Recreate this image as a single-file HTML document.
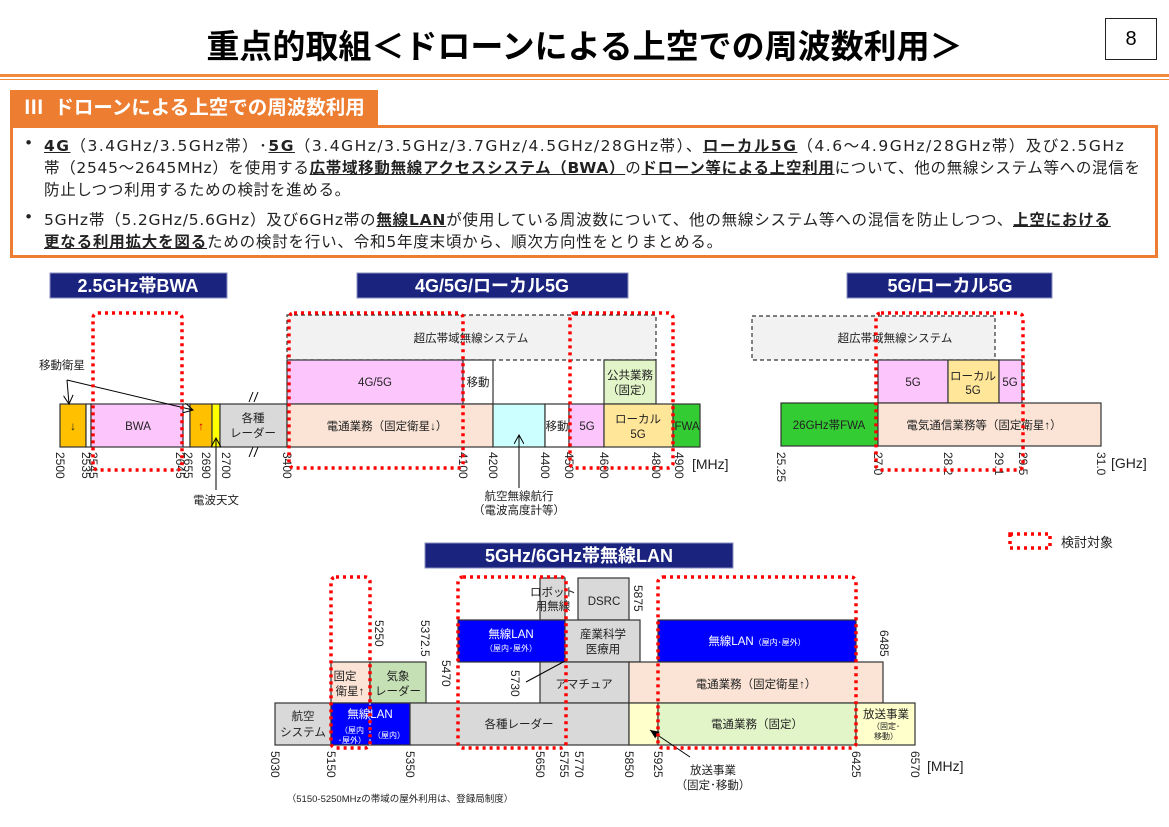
<!DOCTYPE html>
<html><head><meta charset="utf-8"><style>
body{margin:0;background:#fff;}
#w{position:relative;width:1169px;height:827px;overflow:hidden;font-family:"Liberation Sans","Noto Sans CJK JP",sans-serif;}
.l{position:absolute;white-space:nowrap;font-size:15.5px;color:#222;font-family:"DejaVu Sans","Noto Sans CJK JP",sans-serif;letter-spacing:0.2px;}
b{text-decoration:underline;}
svg text{font-family:"Liberation Sans","Noto Sans CJK JP",sans-serif;}
</style></head><body><div id="w">
<div style="position:absolute;left:0;top:20px;width:1169px;text-align:center;font-size:33px;font-weight:bold;color:#000;">重点的取組＜ドローンによる上空での周波数利用＞</div>
<div style="position:absolute;left:1105px;top:18px;width:52px;height:42px;border:1.5px solid #222;box-sizing:border-box;text-align:center;line-height:40px;font-size:20px;">8</div>
<div style="position:absolute;left:0;top:74px;width:1169px;height:3px;background:#f08a3c"></div>
<div style="position:absolute;left:0;top:79px;width:1169px;height:1px;background:#f08a3c"></div>
<div style="position:absolute;left:10px;top:90px;width:368px;height:36px;background:#ed7d31;color:#fff;font-weight:bold;font-size:19.5px;line-height:36px;padding-left:14px;box-sizing:border-box;">Ⅲ&nbsp; ドローンによる上空での周波数利用</div>
<div style="position:absolute;left:10px;top:125px;width:1148px;height:133px;border:3px solid #ed7d31;box-sizing:border-box;"></div>
<div class="l" style="left:24px;top:134px;">•</div>
<div class="l" style="left:44px;top:134px;letter-spacing:1.5px;"><b>4G</b>（3.4GHz/3.5GHz帯）･<b>5G</b>（3.4GHz/3.5GHz/3.7GHz/4.5GHz/28GHz帯）、<b>ローカル5G</b>（4.6～4.9GHz/28GHz帯）及び2.5GHz</div>
<div class="l" style="left:44px;top:156px;letter-spacing:0.7px;">帯（2545～2645MHz）を使用する<b>広帯域移動無線アクセスシステム（BWA）</b>の<b>ドローン等による上空利用</b>について、他の無線システム等への混信を</div>
<div class="l" style="left:44px;top:178px;letter-spacing:0.7px;">防止しつつ利用するための検討を進める。</div>
<div class="l" style="left:24px;top:208px;">•</div>
<div class="l" style="left:44px;top:208px;letter-spacing:0.8px;">5GHz帯（5.2GHz/5.6GHz）及び6GHz帯の<b>無線LAN</b>が使用している周波数について、他の無線システム等への混信を防止しつつ、<b>上空における</b></div>
<div class="l" style="left:44px;top:230px;letter-spacing:0.8px;"><b>更なる利用拡大を図る</b>ための検討を行い、令和5年度末頃から、順次方向性をとりまとめる。</div>

<svg width="1169" height="827" style="position:absolute;left:0;top:0" font-size="11.5">
<defs><marker id="ar" markerWidth="10" markerHeight="10" refX="9" refY="5" orient="auto"><path d="M0,0 L9,5 L0,10" fill="none" stroke="#000"/></marker>
<marker id="af" markerWidth="10" markerHeight="10" refX="9" refY="5" orient="auto"><path d="M0,1 L9,5 L0,9z" fill="#000"/></marker></defs>
<g fill="#1a237e" stroke="#8a8fc0"><rect x="50" y="273" width="177" height="25"/><rect x="357" y="273" width="271" height="25"/><rect x="847" y="273" width="205" height="25"/><rect x="425" y="543" width="308" height="25"/></g>
<g fill="#fff" font-weight="bold" font-size="18" text-anchor="middle"><text x="138" y="292">2.5GHz帯BWA</text><text x="492" y="292">4G/5G/ローカル5G</text><text x="950" y="292">5G/ローカル5G</text><text x="579" y="562">5GHz/6GHz帯無線LAN</text></g>

<g stroke="#333" stroke-width="1.2">
<rect x="287" y="315" width="369" height="45" fill="#f2f2f2" stroke-dasharray="4,3"/>
<rect x="287" y="360" width="176" height="44" fill="#fcc6fc"/>
<rect x="463" y="360" width="30" height="44" fill="#fff"/>
<rect x="604" y="360" width="52" height="44" fill="#e2f5c8"/>
<rect x="60" y="404" width="26" height="43" fill="#ffc000"/>
<rect x="86" y="404" width="5" height="43" fill="#fff"/>
<rect x="91" y="404" width="92" height="43" fill="#fcc6fc"/>
<rect x="183" y="404" width="7" height="43" fill="#fff"/>
<rect x="190" y="404" width="22" height="43" fill="#ffc000"/>
<rect x="212" y="404" width="8" height="43" fill="#ffff00"/>
<rect x="220" y="404" width="67" height="43" fill="#d9d9d9"/>
<rect x="287" y="404" width="206" height="43" fill="#fbe4d6"/>
<rect x="493" y="404" width="52" height="43" fill="#ccffff"/>
<rect x="545" y="404" width="24" height="43" fill="#fff"/>
<rect x="569" y="404" width="35" height="43" fill="#fcc6fc"/>
<rect x="604" y="404" width="69" height="43" fill="#ffe699"/>
<rect x="673" y="404" width="27" height="43" fill="#33cc33"/>
<rect x="752" y="316" width="243" height="44" fill="#f2f2f2" stroke-dasharray="4,3"/>
<rect x="878" y="360" width="70" height="43" fill="#fcc6fc"/>
<rect x="948" y="360" width="51" height="43" fill="#ffe699"/>
<rect x="999" y="360" width="23" height="43" fill="#fcc6fc"/>
<rect x="781" y="403" width="97" height="43" fill="#33cc33"/>
<rect x="878" y="403" width="223" height="43" fill="#fbe4d6"/>
</g>
<g fill="#222" text-anchor="middle">
<text x="471" y="342">超広帯域無線システム</text><text x="375" y="386">4G/5G</text><text x="478" y="386">移動</text>
<text x="630" y="379">公共業務</text><text x="630" y="394">（固定）</text>
<text x="73" y="430">↓</text><text x="138" y="430">BWA</text><text x="201" y="430" fill="#c00">↑</text>
<text x="253" y="422">各種</text><text x="253" y="437">レーダー</text>
<text x="387" y="430">電通業務（固定衛星↓）</text><text x="557" y="430">移動</text><text x="587" y="430">5G</text>
<text x="638" y="423">ローカル</text><text x="638" y="438">5G</text><text x="687" y="430">FWA</text>
<text x="895" y="342">超広帯域無線システム</text><text x="913" y="386">5G</text><text x="973" y="380">ローカル</text><text x="973" y="394">5G</text><text x="1010" y="386">5G</text>
<text x="829" y="429">26GHz帯FWA</text><text x="984" y="429">電気通信業務等（固定衛星↑）</text>
<text x="62" y="369">移動衛星</text><text x="216" y="504">電波天文</text>
<text x="519" y="500">航空無線航行</text><text x="519" y="514">（電波高度計等）</text>
</g>
<g stroke="#000" fill="none"><path d="M67,380 L69,404" marker-end="url(#ar)"/><path d="M67,380 L193,410" marker-end="url(#ar)"/><path d="M216,490 L216,438" marker-end="url(#ar)"/><path d="M519,488 L519,435" marker-end="url(#ar)"/>
<path d="M249,402l4,-10M254,402l4,-10M249,457l4,-10M254,457l4,-10"/></g>
<g fill="#222" font-size="12">
<g transform="translate(56,452) rotate(90)"><text>2500</text></g><g transform="translate(82,452) rotate(90)"><text>2535</text></g><g transform="translate(89,452) rotate(90)"><text>2545</text></g>
<g transform="translate(176,452) rotate(90)"><text>2645</text></g><g transform="translate(184,452) rotate(90)"><text>2655</text></g><g transform="translate(202,452) rotate(90)"><text>2690</text></g><g transform="translate(222,452) rotate(90)"><text>2700</text></g>
<g transform="translate(283,452) rotate(90)"><text>3400</text></g><g transform="translate(459,452) rotate(90)"><text>4100</text></g><g transform="translate(489,452) rotate(90)"><text>4200</text></g>
<g transform="translate(541,452) rotate(90)"><text>4400</text></g><g transform="translate(565,452) rotate(90)"><text>4500</text></g><g transform="translate(600,452) rotate(90)"><text>4600</text></g>
<g transform="translate(652,452) rotate(90)"><text>4800</text></g><g transform="translate(675,452) rotate(90)"><text>4900</text></g>
<g transform="translate(777,452) rotate(90)"><text>25.25</text></g><g transform="translate(874,452) rotate(90)"><text>27.0</text></g><g transform="translate(944,452) rotate(90)"><text>28.2</text></g>
<g transform="translate(995,452) rotate(90)"><text>29.1</text></g><g transform="translate(1019,452) rotate(90)"><text>29.5</text></g><g transform="translate(1097,452) rotate(90)"><text>31.0</text></g>
<text x="692" y="469" font-size="14">[MHz]</text><text x="1111" y="468" font-size="14">[GHz]</text>
</g>

<g stroke="#333" stroke-width="1.2">
<rect x="540" y="578" width="25" height="42" fill="#d9d9d9"/><rect x="578" y="578" width="51" height="42" fill="#d9d9d9"/>
<rect x="458" y="620" width="107" height="42" fill="#0000ff"/><rect x="565" y="620" width="75" height="42" fill="#d9d9d9"/><rect x="658" y="620" width="198" height="42" fill="#0000ff"/>
<rect x="331" y="662" width="39" height="41" fill="#fbe4d6"/><rect x="370" y="662" width="56" height="41" fill="#c5e0b4"/><rect x="540" y="662" width="89" height="41" fill="#d9d9d9"/><rect x="629" y="662" width="254" height="41" fill="#fbe4d6"/>
<rect x="275" y="703" width="56" height="42" fill="#d9d9d9"/><rect x="331" y="703" width="79" height="42" fill="#0000ff"/><rect x="410" y="703" width="219" height="42" fill="#d9d9d9"/>
<rect x="629" y="703" width="29" height="42" fill="#ffffcc"/><rect x="658" y="703" width="198" height="42" fill="#e2f5c8"/><rect x="856" y="703" width="59" height="42" fill="#ffffcc"/>
</g>
<path d="M370,703v42" stroke="#fff" stroke-dasharray="2,2"/>
<g fill="#222" text-anchor="middle">
<text x="553" y="596">ロボット</text><text x="553" y="610">用無線</text><text x="604" y="605">DSRC</text>
<text x="603" y="638">産業科学</text><text x="603" y="653">医療用</text>
<text x="345" y="680">固定</text><text x="350" y="695">衛星↑</text><text x="398" y="680">気象</text><text x="398" y="695">レーダー</text>
<text x="584" y="688">アマチュア</text><text x="756" y="688">電通業務（固定衛星↑）</text>
<text x="303" y="720">航空</text><text x="303" y="736">システム</text><text x="370" y="718" fill="#fff">無線LAN</text>
<text x="352" y="733" fill="#fff" font-size="8">（屋内</text><text x="352" y="743" fill="#fff" font-size="8">･屋外）</text><text x="389" y="738" fill="#fff" font-size="8">（屋内）</text>
<text x="519" y="728">各種レーダー</text><text x="757" y="728">電通業務（固定）</text>
<text x="886" y="718">放送事業</text><text x="886" y="729" font-size="8">（固定･</text><text x="886" y="739" font-size="8">移動）</text>
<text x="511" y="638" fill="#fff">無線LAN</text><text x="511" y="651" fill="#fff" font-size="8">（屋内･屋外）</text>
<text x="757" y="645" fill="#fff">無線LAN<tspan font-size="8">（屋内･屋外）</tspan></text>
<text x="713" y="774">放送事業</text><text x="713" y="789">（固定･移動）</text>
<text x="400" y="802" font-size="9.5">（5150-5250MHzの帯域の屋外利用は、登録局制度）</text>
<text x="1087" y="547" font-size="13">検討対象</text>
</g>
<g stroke="#000" fill="none"><path d="M690,757 L650,730" marker-end="url(#af)"/><path d="M526,682 L565,661"/></g>
<g fill="#222" font-size="12">
<g transform="translate(271,751) rotate(90)"><text>5030</text></g><g transform="translate(327,751) rotate(90)"><text>5150</text></g><g transform="translate(406,751) rotate(90)"><text>5350</text></g>
<g transform="translate(536,751) rotate(90)"><text>5650</text></g><g transform="translate(560,751) rotate(90)"><text>5755</text></g><g transform="translate(575,751) rotate(90)"><text>5770</text></g>
<g transform="translate(625,751) rotate(90)"><text>5850</text></g><g transform="translate(654,751) rotate(90)"><text>5925</text></g><g transform="translate(852,751) rotate(90)"><text>6425</text></g><g transform="translate(911,751) rotate(90)"><text>6570</text></g>
<g transform="translate(375,620) rotate(90)"><text>5250</text></g><g transform="translate(421,620) rotate(90)"><text>5372.5</text></g><g transform="translate(442,660) rotate(90)"><text>5470</text></g>
<g transform="translate(511,670) rotate(90)"><text>5730</text></g><g transform="translate(634,585) rotate(90)"><text>5875</text></g><g transform="translate(880,630) rotate(90)"><text>6485</text></g>
<text x="927" y="771" font-size="14">[MHz]</text>
</g>

<g fill="none" stroke="#f00" stroke-width="3.5" stroke-dasharray="3,4">
<rect x="93" y="313" width="89" height="157" rx="5"/><rect x="289" y="313" width="174" height="155" rx="5"/><rect x="570" y="313" width="103" height="155" rx="5"/>
<rect x="876" y="313" width="147" height="157" rx="5"/>
<rect x="331" y="577" width="39" height="171" rx="5"/><rect x="458" y="577" width="108" height="171" rx="5"/><rect x="658" y="577" width="198" height="171" rx="5"/>
<rect x="1010" y="534" width="40" height="14"/>
</g>
</svg>
</div></body></html>
